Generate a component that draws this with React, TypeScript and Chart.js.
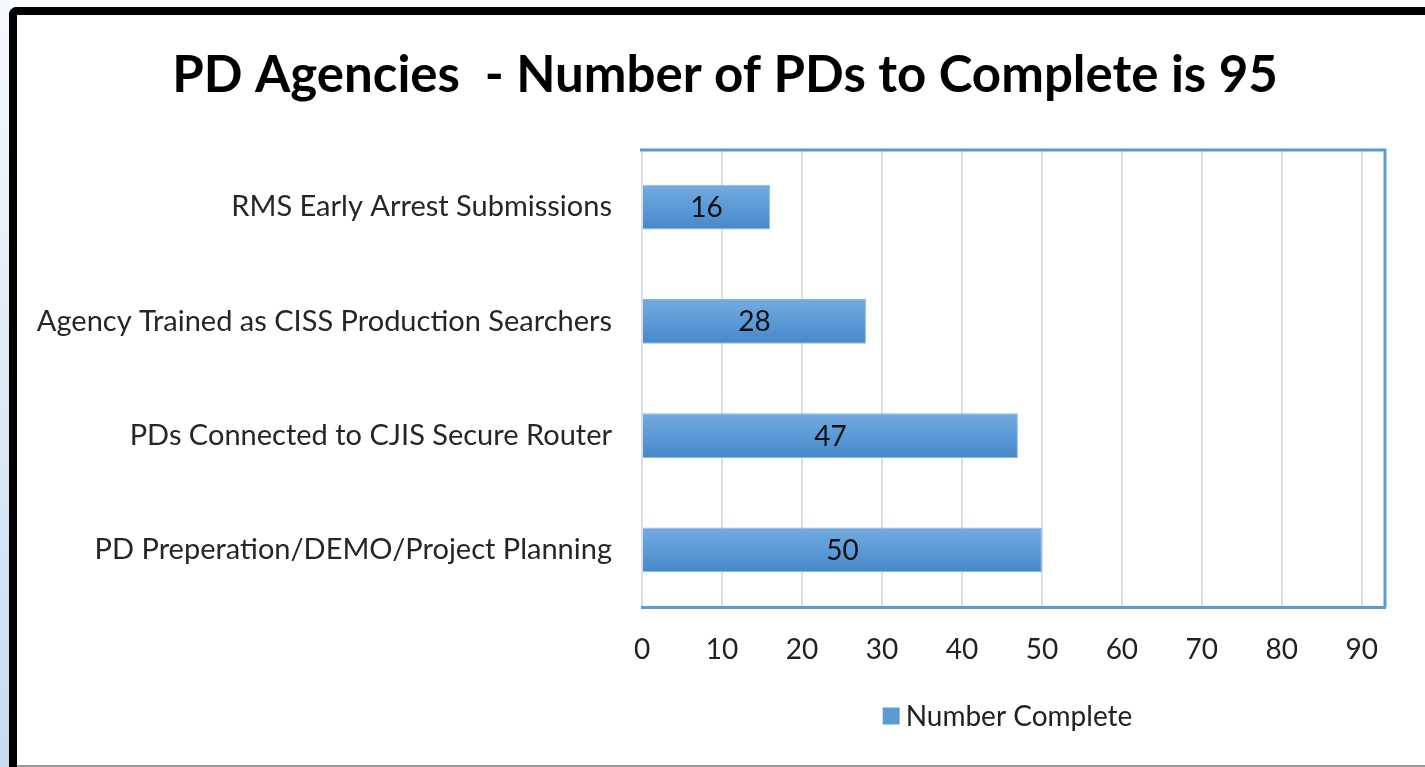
import React, { useEffect, useRef } from "react";
import { Chart, registerables } from "chart.js";

Chart.register(...registerables);

const titleText = "PD Agencies  - Number of PDs to Complete is 95";
const categories = [
  "RMS Early Arrest Submissions",
  "Agency Trained as CISS Production Searchers",
  "PDs Connected to CJIS Secure Router",
  "PD Preperation/DEMO/Project Planning",
];
const numberComplete = [16, 28, 47, 50];
const seriesLabel = "Number Complete";
const xTickValues = [0, 10, 20, 30, 40, 50, 60, 70, 80, 90];
const xMax = 92.9;

const FONT = "Lato, 'Open Sans', sans-serif";
const BLUE = "#5B9BD5";
const BAR_PCT = 0.39;

const framePlugin = {
  id: "frame",
  afterDraw(chart: any) {
    const { ctx, chartArea } = chart;
    ctx.save();
    ctx.strokeStyle = BLUE;
    ctx.lineWidth = 3;
    ctx.beginPath();
    ctx.moveTo(chartArea.left - 2, chartArea.top);
    ctx.lineTo(chartArea.right, chartArea.top);
    ctx.lineTo(chartArea.right, chartArea.bottom);
    ctx.stroke();
    ctx.restore();
  },
};

const titlePlugin = {
  id: "customTitle",
  afterDraw(chart: any) {
    const { ctx } = chart;
    ctx.save();
    ctx.font = `bold 51px ${FONT}`;
    ctx.fillStyle = "#000";
    ctx.textAlign = "center";
    ctx.textBaseline = "middle";
    ctx.fillText(titleText, 708, 61);
    ctx.restore();
  },
};

const labelPlugin = {
  id: "valueLabels",
  afterDatasetsDraw(chart: any) {
    const { ctx } = chart;
    const ds = chart.data.datasets[0];
    ctx.save();
    ctx.font = `28px ${FONT}`;
    ctx.fillStyle = "#111";
    ctx.textAlign = "center";
    ctx.textBaseline = "middle";
    chart.getDatasetMeta(0).data.forEach((el: any, i: number) => {
      ctx.fillText(String(ds.data[i]), (el.x + el.base) / 2, el.y + 1);
    });
    ctx.restore();
  },
};

const legendPlugin = {
  id: "customLegend",
  afterDraw(chart: any) {
    const { ctx, chartArea } = chart;
    ctx.save();
    ctx.font = `28px ${FONT}`;
    const tw = ctx.measureText(seriesLabel).width;
    const box = 17;
    const gap = 6;
    const total = box + gap + tw;
    const cx = (chartArea.left + chartArea.right) / 2 - 6;
    const x0 = cx - total / 2;
    const cy = 701;
    ctx.fillStyle = BLUE;
    ctx.fillRect(x0, cy - box / 2, box, box);
    ctx.fillStyle = "#222";
    ctx.textBaseline = "middle";
    ctx.textAlign = "left";
    ctx.fillText(seriesLabel, x0 + box + gap, cy + 1);
    ctx.restore();
  },
};

export default function App() {
  const ref = useRef<HTMLCanvasElement>(null);
  useEffect(() => {
    if (!ref.current) return;
    const chart = new Chart(ref.current, {
      type: "bar",
      data: {
        labels: categories,
        datasets: [
          {
            label: seriesLabel,
            data: numberComplete,
            backgroundColor: (c: any) => {
              const chartRef = c.chart;
              const ys = chartRef.scales && chartRef.scales.y;
              if (!ys || typeof c.dataIndex !== "number") return BLUE;
              const y = ys.getPixelForValue(c.dataIndex);
              const h = (ys.height / categories.length) * BAR_PCT;
              if (!isFinite(y) || !isFinite(h) || h <= 0) return BLUE;
              const g = chartRef.ctx.createLinearGradient(0, y - h / 2, 0, y + h / 2);
              g.addColorStop(0, "#74AAE0");
              g.addColorStop(0.5, "#5B9BD8");
              g.addColorStop(1, "#4887C9");
              return g;
            },
            borderColor: "#8AB8E6",
            borderWidth: 1,
            barPercentage: BAR_PCT,
            categoryPercentage: 1,
          },
        ],
      },
      options: {
        indexAxis: "y",
        animation: false,
        responsive: false,
        maintainAspectRatio: false,
        layout: { padding: { left: 0, right: 40, top: 135, bottom: 71 } },
        plugins: {
          title: { display: false },
          legend: { display: false },
          tooltip: { enabled: false },
        },
        scales: {
          x: {
            type: "linear",
            min: 0,
            max: xMax,
            afterBuildTicks: (scale: any) => {
              scale.ticks = xTickValues.map((v) => ({ value: v }));
            },
            afterFit: (scale: any) => {
              scale.height = 87;
            },
            grid: { color: "#D9DFE9", lineWidth: 2, drawTicks: false },
            border: { display: true, color: BLUE, width: 3 },
            ticks: {
              color: "#222",
              font: { family: FONT, size: 28 },
              padding: 26,
              maxRotation: 0,
            },
          },
          y: {
            type: "category",
            afterFit: (scale: any) => {
              scale.width = 625;
            },
            grid: { display: false, drawTicks: false },
            border: { display: false },
            ticks: {
              color: "#262626",
              font: { family: FONT, size: 29 },
              padding: 30,
            },
          },
        },
      },
      plugins: [labelPlugin, framePlugin, legendPlugin, titlePlugin],
    });
    return () => chart.destroy();
  }, []);

  return (
    <div
      style={{
        position: "fixed",
        left: 0,
        top: 0,
        width: 1425,
        height: 767,
        background: "#fff",
        overflow: "hidden",
      }}
    >
      <div
        style={{
          position: "absolute",
          left: 0,
          top: 0,
          width: 9,
          height: 767,
          background: "linear-gradient(#F6F9FC, #C8DBEF)",
        }}
      />
      <div
        style={{
          position: "absolute",
          left: 9,
          top: 7,
          width: 1440,
          height: 780,
          borderLeft: "8px solid #000",
          borderTop: "8px solid #000",
          borderTopLeftRadius: 8,
          boxSizing: "border-box",
        }}
      />
      <div
        style={{
          position: "absolute",
          left: 17,
          top: 765,
          width: 1408,
          height: 2,
          background: "#9A9A9A",
        }}
      />
      <canvas
        ref={ref}
        width={1408}
        height={750}
        style={{ position: "absolute", left: 17, top: 15, width: 1408, height: 750 }}
      />
    </div>
  );
}
